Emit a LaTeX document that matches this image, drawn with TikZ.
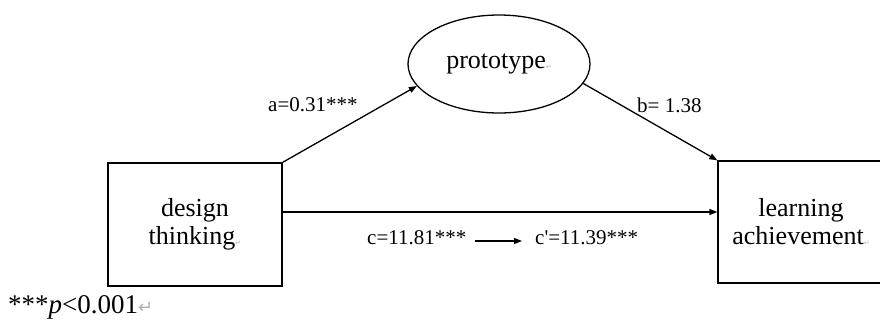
\documentclass[tikz,border=0pt]{standalone}
\usepackage{fontspec}
\setmainfont{Liberation Serif}
\newfontfamily\symfont{DejaVu Sans}
\usetikzlibrary{arrows.meta,shapes.geometric}

% small grey paragraph mark set after a line of text
\newcommand{\pmark}{{\color{black!30}\fontsize{7}{7}\symfont\raisebox{-1pt}{↵}}}

\tikzset{
  linew/.style={line width=1.3pt},
  varbox/.style={draw, linew, rectangle, align=center, inner sep=0pt,
    font=\fontsize{26}{28}\selectfont},
  varoval/.style={draw, linew, ellipse, align=center, inner sep=0pt,
    font=\fontsize{26}{28}\selectfont},
  path/.style={linew, -{Triangle[length=8pt,width=6pt]}},
  coef/.style={anchor=base west, inner sep=0pt, font=\fontsize{21}{22}\selectfont}
}

\begin{document}
\begin{tikzpicture}[x=1pt, y=-1pt]
  \useasboundingbox (0,0) rectangle (880,325);

  % variables
  \node[varbox, minimum width=174pt, minimum height=123pt] (dt) at (195,224.5)
    {design\\thinking\pmark};
  \node[varbox, minimum width=166pt, minimum height=122pt] (la) at (801,222)
    {learning\\achievement\pmark};
  \node[varoval, minimum width=182pt, minimum height=98pt] (pr) at (499,64)
    {prototype\pmark};

  % paths
  \coordinate (cy) at (0,212);
  \draw[path] (dt.north east) -- (pr.195);
  \draw[path] (pr.-13) -- (la.north west);
  \draw[path] (dt.east |- cy) -- (la.west |- cy);

  % coefficients
  \node[coef] (ca) at (268,111) {a=0.31***};
  \node[coef] (cb) at (637,112) {b= 1.38};
  \node[coef] (cc) at (367,244) {c=11.81***};
  \node[coef] (cd) at (535,244) {c\textquotesingle=11.39***};
  \coordinate (s1) at (475,241);
  \coordinate (s2) at (522,241);
  \draw[path] (s1) -- (s2);

  % significance note
  \node[anchor=base west, inner sep=0pt, font=\fontsize{27}{28}\selectfont] (note) at (8,313)
    {***\textit{p}<0.001{\color{black!30}\fontsize{18}{18}\symfont ↵}};
\end{tikzpicture}
\end{document}
